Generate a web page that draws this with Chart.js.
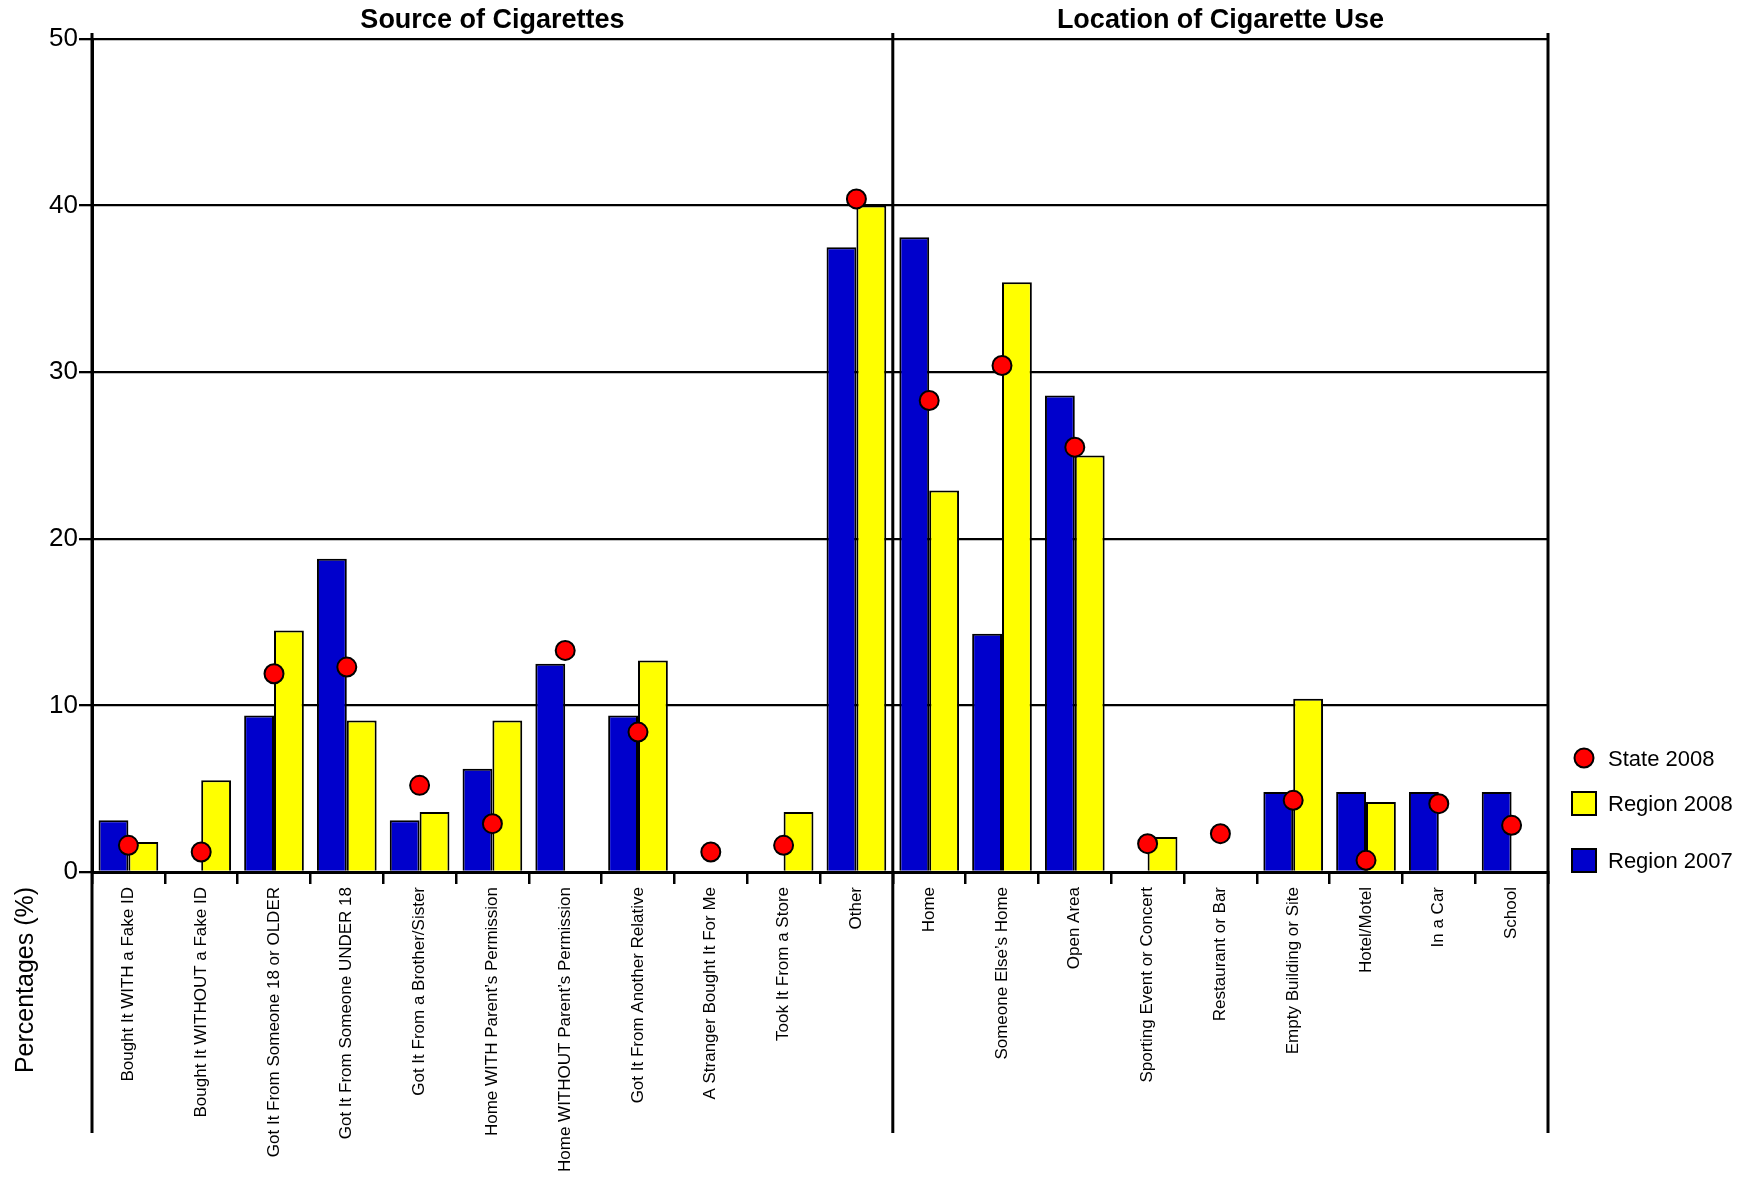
<!DOCTYPE html>
<html>
<head>
<meta charset="utf-8">
<script src="https://cdn.jsdelivr.net/npm/chart.js@4/dist/chart.umd.min.js"></script>
<style>
  body { margin: 0; background: #fff; }
  canvas { display: block; }
</style>
</head>
<body>
<canvas id="chart" width="1752" height="1179"></canvas>
<script>
const categories = [
  "Bought It WITH a Fake ID",
  "Bought It WITHOUT a Fake ID",
  "Got It From Someone 18 or OLDER",
  "Got It From Someone UNDER 18",
  "Got It From a Brother/Sister",
  "Home WITH Parent\u2019s Permission",
  "Home WITHOUT Parent\u2019s Permission",
  "Got It From Another Relative",
  "A Stranger Bought It For Me",
  "Took It From a Store",
  "Other",
  "Home",
  "Someone Else\u2019s Home",
  "Open Area",
  "Sporting Event or Concert",
  "Restaurant or Bar",
  "Empty Building or Site",
  "Hotel/Motel",
  "In a Car",
  "School"
];
const region2007 = [3.1, 0, 9.4, 18.8, 3.1, 6.2, 12.5, 9.4, 0, 0, 37.5, 38.1, 14.3, 28.6, 0, 0, 4.8, 4.8, 4.8, 4.8];
const region2008 = [1.8, 5.5, 14.5, 9.1, 3.6, 9.1, 0, 12.7, 0, 3.6, 40.0, 22.9, 35.4, 25.0, 2.1, 0, 10.4, 4.2, 0, 0];
const state2008 = [1.6, 1.2, 11.9, 12.3, 5.2, 2.9, 13.3, 8.4, 1.2, 1.6, 40.4, 28.3, 30.4, 25.5, 1.7, 2.3, 4.3, 0.7, 4.1, 2.8];
const yTicks = [0, 10, 20, 30, 40, 50];
const panelTitles = ["Source of Cigarettes", "Location of Cigarette Use"];
const splitAfter = 10; // index of last "Source" category

const FONT = "'Liberation Sans', Arial, sans-serif";

const extras = {
  id: 'extras',
  afterDraw(chart) {
    const ctx = chart.ctx;
    const x = chart.scales.x, a = chart.chartArea;
    const divX = (x.getPixelForValue(splitAfter) + x.getPixelForValue(splitAfter + 1)) / 2;
    ctx.save();
    ctx.strokeStyle = '#000';
    ctx.lineWidth = 3;
    [a.left, divX, a.right].forEach(px => {
      ctx.beginPath();
      ctx.moveTo(px, a.top - 6);
      ctx.lineTo(px, 1133);
      ctx.stroke();
    });
    // panel titles
    ctx.fillStyle = '#000';
    ctx.font = 'bold 27px ' + FONT;
    ctx.textAlign = 'center';
    ctx.textBaseline = 'alphabetic';
    ctx.fillText(panelTitles[0], (a.left + divX) / 2, 28);
    ctx.fillText(panelTitles[1], (divX + a.right) / 2, 28);
    // y title
    ctx.font = '25px ' + FONT;
    ctx.translate(33, 980);
    ctx.rotate(-Math.PI / 2);
    ctx.fillText('Percentages (%)', 0, 0);
    ctx.restore();

    // legend
    ctx.save();
    ctx.font = '22px ' + FONT;
    ctx.textAlign = 'left';
    ctx.textBaseline = 'middle';
    ctx.lineWidth = 2;
    ctx.strokeStyle = '#000';
    const lx = 1584, tx = 1608;
    ctx.fillStyle = '#ff0000';
    ctx.beginPath();
    ctx.arc(lx, 758, 9.5, 0, Math.PI * 2);
    ctx.fill(); ctx.stroke();
    ctx.fillStyle = '#ffff00';
    ctx.fillRect(lx - 12, 792, 24, 23); ctx.strokeRect(lx - 12, 792, 24, 23);
    ctx.fillStyle = '#0000cc';
    ctx.fillRect(lx - 12, 849, 24, 23); ctx.strokeRect(lx - 12, 849, 24, 23);
    ctx.fillStyle = '#000';
    ctx.fillText('State 2008', tx, 760);
    ctx.fillText('Region 2008', tx, 805);
    ctx.fillText('Region 2007', tx, 862);
    ctx.restore();
  }
};

new Chart(document.getElementById('chart'), {
  type: 'bar',
  data: {
    labels: categories,
    datasets: [
      {
        type: 'line',
        label: 'State 2008',
        data: state2008,
        showLine: false,
        pointRadius: 9.5,
        pointHoverRadius: 9.5,
        pointBackgroundColor: '#ff0000',
        pointBorderColor: '#000',
        pointBorderWidth: 2,
        order: 0
      },
      {
        label: 'Region 2007',
        data: region2007,
        backgroundColor: '#0000cc',
        borderColor: '#000',
        borderWidth: 2,
        order: 1
      },
      {
        label: 'Region 2008',
        data: region2008,
        backgroundColor: '#ffff00',
        borderColor: '#000',
        borderWidth: 2,
        order: 1
      }
    ]
  },
  plugins: [extras],
  options: {
    responsive: false,
    animation: false,
    categoryPercentage: 0.82,
    barPercentage: 1.0,
    layout: { padding: { top: 39, right: 204, left: 0, bottom: 0 } },
    plugins: {
      legend: { display: false },
      tooltip: { enabled: false }
    },
    scales: {
      x: {
        grid: { offset: true, drawOnChartArea: false, color: '#000', lineWidth: 2.5, tickLength: 12 },
        border: { color: '#000', width: 3 },
        ticks: {
          autoSkip: false,
          minRotation: 90,
          maxRotation: 90,
          padding: 3,
          color: '#000',
          font: { family: FONT, size: 17 }
        },
        afterFit(scale) { scale.height = 1179 - 872; }
      },
      y: {
        min: 0,
        max: 50,
        afterBuildTicks(scale) { scale.ticks = yTicks.map(v => ({ value: v })); },
        grid: { color: '#000', lineWidth: 2.3, tickLength: 13 },
        border: { color: '#000', width: 3 },
        ticks: {
          padding: 1,
          color: '#000',
          font: { family: FONT, size: 26 }
        },
        afterFit(scale) { scale.width = 92; }
      }
    }
  }
});
</script>
</body>
</html>
